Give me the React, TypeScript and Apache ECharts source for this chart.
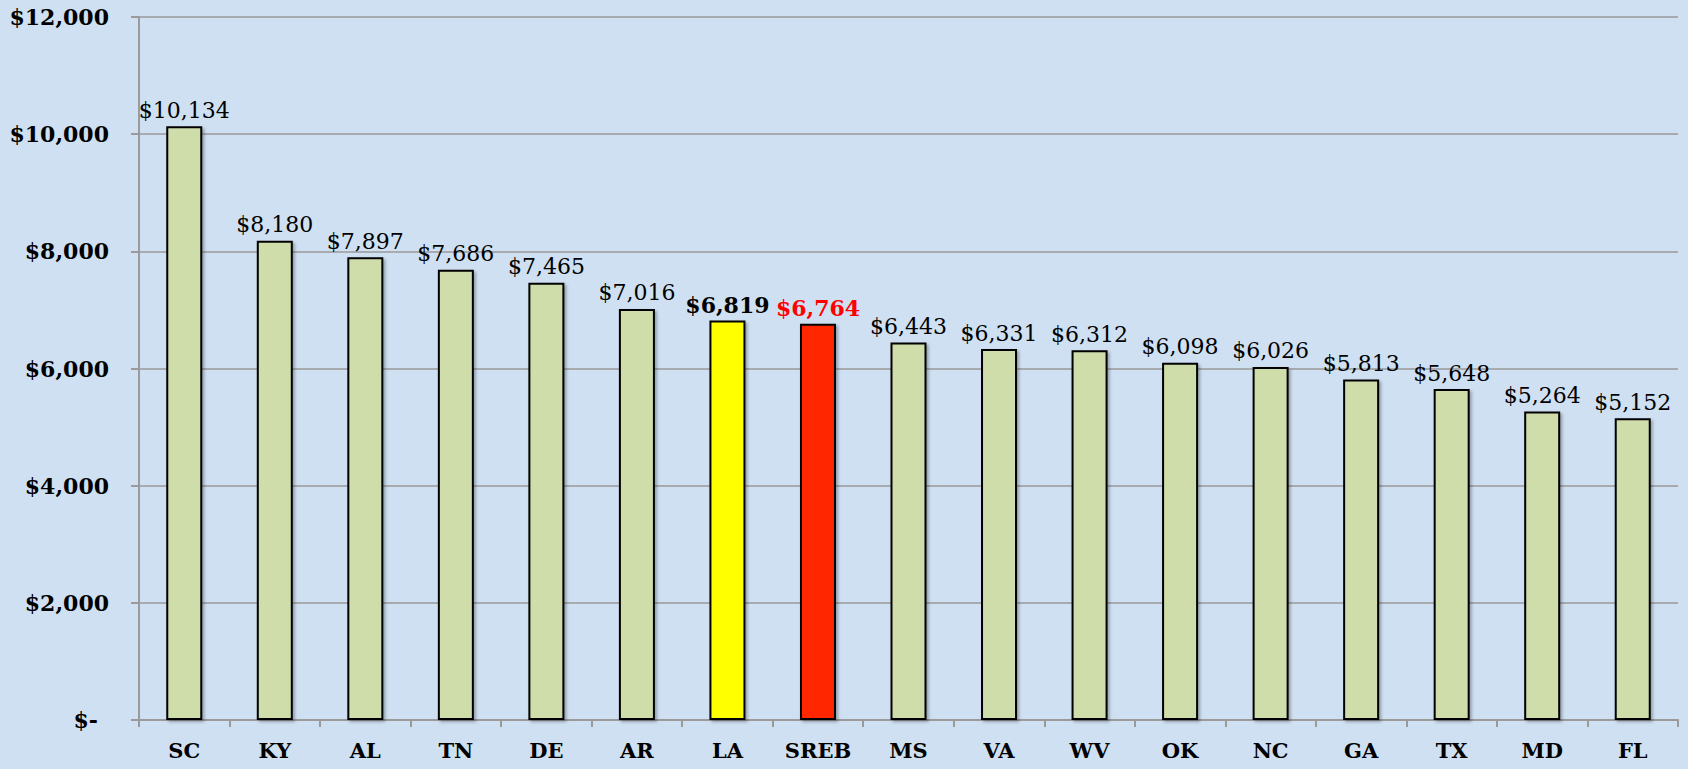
import React, { useEffect, useRef } from "react";
import * as echarts from "echarts";

const categories = ["SC", "KY", "AL", "TN", "DE", "AR", "LA", "SREB", "MS", "VA", "WV", "OK", "NC", "GA", "TX", "MD", "FL"];
const values = [10134, 8180, 7897, 7686, 7465, 7016, 6819, 6764, 6443, 6331, 6312, 6098, 6026, 5813, 5648, 5264, 5152];
const yTicks = [0, 2000, 4000, 6000, 8000, 10000, 12000];

const GREEN = "#cfddab";
const FONT = "DejaVu Serif";

function money(v: number): string {
  return "$" + v.toLocaleString("en-US");
}

export default function App() {
  const ref = useRef<HTMLDivElement>(null);
  useEffect(() => {
    document.body.style.margin = "0";
    const chart = echarts.init(ref.current!, null, { renderer: "svg" });
    const data = values.map((v, i) => {
      const cat = categories[i];
      const item: any = { value: v };
      if (cat === "LA") {
        item.itemStyle = { color: "#ffff00" };
        item.label = { fontWeight: "bold", fontSize: 22, color: "#000" };
      } else if (cat === "SREB") {
        item.itemStyle = { color: "#ff2600" };
        item.label = { fontWeight: "bold", fontSize: 22, color: "#ff0000" };
      }
      return item;
    });
    chart.setOption({
      animation: false,
      backgroundColor: "#cfe0f2",
      grid: { left: 139, right: 10, top: 17, bottom: 49, containLabel: false },
      xAxis: {
        type: "category",
        data: categories,
        axisLine: { lineStyle: { color: "#9a9a9a", width: 2 } },
        axisTick: { show: true, length: 7, lineStyle: { color: "#9a9a9a", width: 2 } },
        axisLabel: { fontFamily: FONT, fontWeight: "bold", fontSize: 21, color: "#000", margin: 20 },
      },
      yAxis: {
        type: "value",
        min: yTicks[0],
        max: yTicks[yTicks.length - 1],
        interval: 2000,
        axisLine: { show: true, lineStyle: { color: "#9a9a9a", width: 2 } },
        axisTick: { show: true, length: 8, lineStyle: { color: "#9a9a9a", width: 2 } },
        splitLine: { show: true, lineStyle: { color: "#9a9a9a", width: 1.5 } },
        axisLabel: {
          fontFamily: FONT,
          fontWeight: "bold",
          fontSize: 22,
          color: "#000",
          margin: 30,
          formatter: (v: number) => (v === 0 ? "{z|$-}" : money(v)),
          rich: { z: { fontFamily: FONT, fontWeight: "bold", fontSize: 22, color: "#000", padding: [0, 11, 0, 0] } },
        },
      },
      series: [
        {
          type: "bar",
          data,
          barWidth: 36,
          itemStyle: {
            color: GREEN,
            borderColor: "#000",
            borderWidth: 2,
            shadowBlur: 3,
            shadowOffsetX: 2,
            shadowOffsetY: 2,
            shadowColor: "rgba(0,0,0,0.3)",
          },
          label: {
            show: true,
            position: "top",
            distance: 5,
            fontFamily: FONT,
            fontSize: 22,
            color: "#000",
            formatter: (p: any) => money(p.value),
          },
        },
      ],
    });
    return () => chart.dispose();
  }, []);
  return <div ref={ref} style={{ width: 1688, height: 769 }} />;
}
